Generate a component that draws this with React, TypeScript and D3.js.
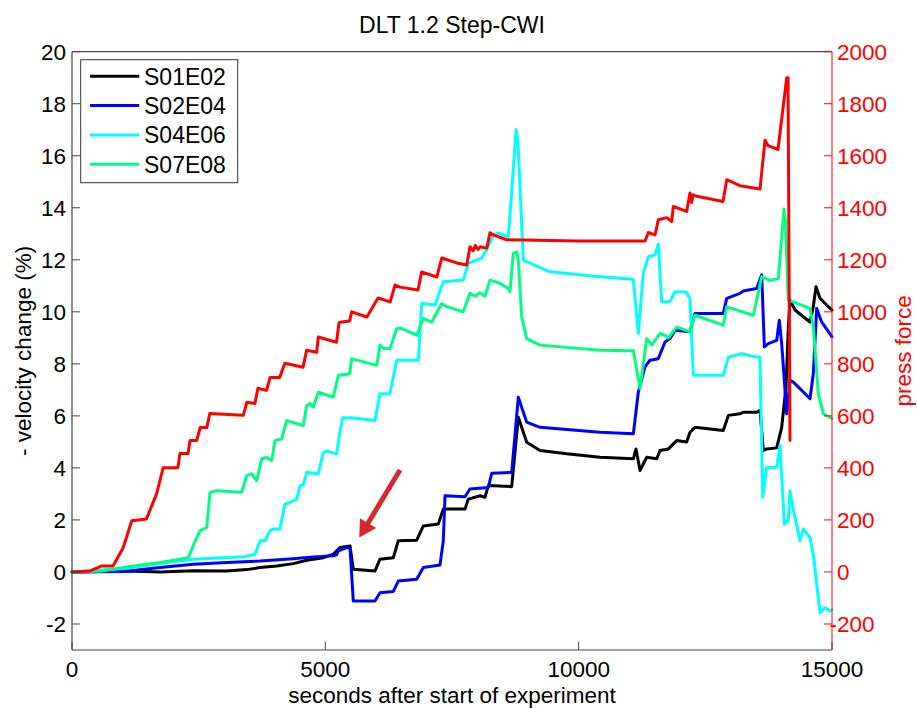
import React from "react";
import * as d3 from "d3";

type P = [number, number];

const title = "DLT 1.2 Step-CWI";
const xLabel = "seconds after start of experiment";
const yLabelLeft = "- velocity change (%)";
const yLabelRight = "press force";

const xTicks = [0, 5000, 10000, 15000];
const yTicksLeft = [-2, 0, 2, 4, 6, 8, 10, 12, 14, 16, 18, 20];
const yTicksRight = [-200, 0, 200, 400, 600, 800, 1000, 1200, 1400, 1600, 1800, 2000];

const seriesNames = ["S01E02", "S02E04", "S04E06", "S07E08"];
const seriesColors = ["#000000", "#0000ff", "#00ffff", "#00ff80"];

// S01E02 (seconds, % velocity change)
const s01e02: P[] = [
  [0, 0], [1080, 0.04], [1740, 0.0], [2394, 0.05], [3053, 0.04], [3448, 0.09], [3711, 0.17],
  [4040, 0.23], [4368, 0.32], [4632, 0.45], [4960, 0.55], [5157, 0.68], [5289, 0.94], [5487, 1.0],
  [5552, 0.1], [5980, 0.04], [6079, 0.49], [6342, 0.55], [6440, 1.2], [6803, 1.22], [6934, 1.77],
  [7230, 1.84], [7328, 2.42], [7757, 2.42], [7822, 2.8], [8053, 2.93], [8151, 2.87], [8216, 3.32],
  [8678, 3.28], [8809, 5.95], [8974, 4.99], [9237, 4.67], [9764, 4.54], [10421, 4.41], [11079, 4.35],
  [11132, 4.73], [11211, 3.9], [11343, 4.41], [11540, 4.35], [11605, 4.67], [11770, 4.73],
  [11935, 5.05], [12132, 5.0], [12197, 5.37], [12296, 5.56], [12855, 5.44], [12954, 6.02],
  [13184, 6.08], [13249, 6.14], [13514, 6.14], [13579, 6.21], [13645, 4.67], [13711, 4.73],
  [13908, 4.77], [14007, 5.56], [14092, 7.11], [14138, 9.42], [14171, 10.45], [14270, 10.07],
  [14434, 9.81], [14566, 9.61], [14631, 10.2], [14684, 10.96], [14763, 10.52], [14895, 10.26],
  [15000, 10.07],
];

// S02E04
const s02e04: P[] = [
  [0, 0], [1000, 0.02], [1740, 0.17], [2394, 0.3], [3053, 0.36], [3711, 0.42], [4368, 0.51],
  [4763, 0.58], [5157, 0.62], [5224, 0.66], [5256, 0.81], [5422, 0.94], [5487, 0.92], [5552, -1.12],
  [5980, -1.12], [6079, -0.8], [6342, -0.75], [6440, -0.35], [6803, -0.28], [6934, 0.17],
  [7263, 0.27], [7328, 1.2], [7362, 2.93], [7757, 2.89], [7855, 3.19], [8216, 3.25], [8284, 3.79],
  [8678, 3.83], [8809, 6.72], [8974, 5.76], [9237, 5.56], [10421, 5.37], [11079, 5.31],
  [11177, 6.91], [11309, 7.88], [11408, 8.14], [11572, 8.2], [11704, 8.84], [11803, 8.97],
  [11901, 9.29], [12197, 9.23], [12296, 9.94], [12855, 9.94], [12922, 10.52], [13184, 10.71],
  [13249, 10.8], [13514, 10.9], [13613, 11.42], [13665, 8.65], [13743, 8.78], [13908, 8.9],
  [13960, 9.68], [14007, 8.78], [14106, 6.08], [14171, 7.37], [14237, 7.3], [14368, 7.05],
  [14566, 6.66], [14631, 7.62], [14698, 10.13], [14796, 9.61], [15000, 9.04],
];

// S04E06
const s04e06: P[] = [
  [0, 0], [1080, 0.14], [1740, 0.32], [2394, 0.49], [3381, 0.58], [3612, 0.68], [3711, 1.2],
  [3809, 1.2], [3908, 1.58], [3973, 1.65], [4105, 1.65], [4204, 2.61], [4303, 2.67], [4435, 2.8],
  [4500, 3.32], [4565, 3.35], [4632, 3.83], [4861, 3.77], [4960, 4.6], [5027, 4.65], [5224, 4.54],
  [5276, 5.24], [5340, 5.93], [5552, 5.92], [5980, 5.82], [6079, 6.85], [6276, 6.85], [6409, 8.14],
  [6835, 8.14], [6902, 10.32], [7165, 10.26], [7328, 11.16], [7723, 11.22], [7822, 11.87],
  [8086, 12.06], [8216, 12.51], [8316, 12.96], [8414, 13.02], [8611, 12.89], [8678, 14.6],
  [8763, 17.0], [8800, 16.6], [8907, 11.99], [9039, 11.87], [9434, 11.54], [10421, 11.35],
  [11079, 11.25], [11177, 9.17], [11276, 11.48], [11375, 12.12], [11507, 12.19], [11572, 12.6],
  [11639, 10.39], [11803, 10.4], [11901, 10.77], [12132, 10.75], [12197, 10.5], [12263, 7.56],
  [12855, 7.56], [12954, 8.26], [13218, 8.39], [13514, 8.26], [13579, 8.26], [13632, 2.87],
  [13711, 4.02], [13908, 4.02], [13974, 4.86], [14059, 1.84], [14138, 2.0], [14171, 3.12],
  [14237, 2.4], [14368, 1.2], [14434, 1.65], [14566, 1.32], [14631, 0.68], [14763, -1.57],
  [14862, -1.37], [14961, -1.5], [15000, -1.45],
];

// S07E08
const s07e08: P[] = [
  [0, 0], [600, 0.04], [1080, 0.19], [1740, 0.36], [2130, 0.49], [2295, 0.55], [2461, 1.32],
  [2526, 1.58], [2659, 1.71], [2724, 3.06], [2856, 3.12], [3349, 3.06], [3448, 3.7], [3547, 3.77],
  [3645, 3.51], [3744, 4.35], [3843, 4.4], [3942, 4.28], [4007, 5.05], [4139, 5.12], [4237, 5.82],
  [4565, 5.63], [4632, 6.4], [4697, 6.47], [4763, 6.34], [4861, 6.91], [5157, 6.72], [5256, 7.56],
  [5480, 7.62], [5520, 8.2], [6013, 7.94], [6079, 8.72], [6144, 8.6], [6276, 8.59], [6409, 9.36],
  [6500, 9.36], [6803, 9.1], [6934, 9.75], [7099, 9.6], [7297, 10.32], [7396, 10.2], [7723, 10.0],
  [7855, 10.71], [7954, 10.6], [8053, 10.73], [8150, 10.6], [8250, 11.22], [8447, 11.1],
  [8611, 10.9], [8645, 10.77], [8710, 12.25], [8777, 12.31], [8809, 11.99], [8875, 9.81],
  [8974, 8.97], [9237, 8.72], [10421, 8.52], [11079, 8.5], [11211, 7.05], [11343, 8.97],
  [11442, 8.72], [11605, 9.17], [11700, 9.1], [11770, 9.0], [11935, 9.42], [12197, 9.23],
  [12296, 9.87], [12855, 9.49], [12922, 10.19], [13447, 9.87], [13613, 11.35], [13776, 11.2],
  [13941, 11.29], [14053, 13.95], [14080, 13.5], [14138, 10.45], [14566, 10.13], [14631, 9.42],
  [14730, 6.85], [14829, 6.08], [15000, 5.89],
];

// press force (right axis)
const pressForce: P[] = [
  [0, 0], [355, 4], [590, 23], [810, 23], [1010, 93], [1180, 197], [1470, 204], [1670, 301],
  [1800, 401], [2090, 401], [2130, 455], [2290, 455], [2330, 505], [2460, 505], [2530, 555],
  [2660, 555], [2720, 609], [3380, 602], [3450, 652], [3610, 648], [3670, 706], [3840, 698],
  [3910, 748], [4100, 748], [4200, 802], [4560, 787], [4630, 852], [4830, 845], [4860, 903],
  [5220, 883], [5270, 957], [5290, 960], [5480, 965], [5520, 1000], [5820, 980], [6040, 1053],
  [6280, 1038], [6375, 1103], [6470, 1095], [6830, 1084], [6900, 1153], [7200, 1134], [7300, 1207],
  [7590, 1188], [7790, 1180], [7855, 1250], [7920, 1235], [7960, 1255], [8013, 1240], [8060, 1250],
  [8185, 1245], [8250, 1304], [8310, 1296], [8580, 1277], [10000, 1272], [11310, 1272],
  [11375, 1305], [11507, 1296], [11572, 1354], [11737, 1362], [11836, 1347], [11868, 1405],
  [12132, 1386], [12197, 1457], [12230, 1420], [12257, 1450], [12330, 1444], [12849, 1424],
  [12922, 1508], [13184, 1485], [13579, 1472], [13678, 1660], [13737, 1639], [13934, 1624],
  [14106, 1900], [14132, 1900], [14171, 505],
];

const leftSeries = [s01e02, s02e04, s04e06, s07e08];

// annotation arrow (data coords, left axis)
const arrowTail: P = [6474, 3.92];
const arrowTip: P = [5670, 1.32];

const FONT = "'Liberation Sans', Arial, Helvetica, sans-serif";

export default function App() {
  const W = 917;
  const H = 709;
  const left = 72;
  const right = 832;
  const top = 51.7;
  const bottom = 650;

  const x = d3.scaleLinear().domain([0, 15000]).range([left, right]);
  const yL = d3.scaleLinear().domain([-3, 20]).range([bottom, top]);
  const yR = d3.scaleLinear().domain([-300, 2000]).range([bottom, top]);

  const lineL = d3.line<P>().x((d) => x(d[0])).y((d) => yL(d[1]));
  const lineR = d3.line<P>().x((d) => x(d[0])).y((d) => yR(d[1]));

  // arrow geometry
  const tx = x(arrowTail[0]), ty = yL(arrowTail[1]);
  const hx = x(arrowTip[0]), hy = yL(arrowTip[1]);
  const dx = hx - tx, dy = hy - ty;
  const len = Math.hypot(dx, dy);
  const ux = dx / len, uy = dy / len;
  const headLen = 17, headHalf = 9.5;
  const bx = hx - ux * headLen, by = hy - uy * headLen;
  const px = -uy, py = ux;
  const head = `${hx},${hy} ${bx + px * headHalf},${by + py * headHalf} ${bx - px * headHalf},${by - py * headHalf}`;

  const tickLen = 8;
  const fs = 22.5;

  return (
    <svg
      width={W}
      height={H}
      style={{ position: "absolute", left: 0, top: 0, background: "#fff" }}
      fontFamily={FONT}
    >
      <rect x={0} y={0} width={W} height={H} fill="#fff" />

      {/* title */}
      <text x={452} y={33} textAnchor="middle" fontSize={23} fill="#000">
        {title}
      </text>

      {/* series */}
      <g fill="none" strokeWidth={3} strokeLinejoin="round" strokeLinecap="round">
        {leftSeries.map((s, i) => (
          <path key={i} d={lineL(s) || ""} stroke={seriesColors[i]} />
        ))}
        <path d={lineR(pressForce) || ""} stroke="#ff0000" />
      </g>

      {/* axes box */}
      <line x1={left} y1={top} x2={right} y2={top} stroke="#262626" strokeWidth={1} />
      <line x1={left} y1={bottom} x2={right} y2={bottom} stroke="#444" strokeWidth={1.2} />
      <line x1={left} y1={top} x2={left} y2={bottom} stroke="#444" strokeWidth={1.2} />
      <line x1={right} y1={top} x2={right} y2={bottom} stroke="#ff0000" strokeWidth={1} />

      {/* x ticks */}
      {xTicks.map((t) => (
        <g key={t}>
          <line x1={x(t)} x2={x(t)} y1={bottom} y2={bottom - tickLen} stroke="#444" />
          <text x={x(t)} y={677} textAnchor="middle" fontSize={fs} fill="#000">
            {t}
          </text>
        </g>
      ))}

      {/* left ticks */}
      {yTicksLeft.map((t) => (
        <g key={t}>
          <line x1={left} x2={left + tickLen} y1={yL(t)} y2={yL(t)} stroke="#444" />
          <text x={66} y={yL(t) + 8} textAnchor="end" fontSize={fs} fill="#000">
            {t}
          </text>
        </g>
      ))}

      {/* right ticks */}
      {yTicksRight.map((t) => (
        <g key={t}>
          <line x1={right} x2={right - tickLen} y1={yR(t)} y2={yR(t)} stroke="#ff0000" />
          <text
            x={t < 0 ? 837 - fs * 0.333 : 837}
            y={yR(t) + 8}
            textAnchor="start"
            fontSize={fs}
            fill="#ff0000"
          >
            {t}
          </text>
        </g>
      ))}

      {/* axis labels */}
      <text x={452} y={703} textAnchor="middle" fontSize={fs} fill="#000">
        {xLabel}
      </text>
      <text
        transform={`translate(31, ${(top + bottom) / 2}) rotate(-90)`}
        textAnchor="middle"
        fontSize={fs}
        fill="#000"
      >
        {yLabelLeft}
      </text>
      <text
        transform={`translate(911, ${(top + bottom) / 2}) rotate(-90)`}
        textAnchor="middle"
        fontSize={fs}
        fill="#ff0000"
      >
        {yLabelRight}
      </text>

      {/* legend */}
      <rect x={80.7} y={59.7} width={157} height={123} fill="#fff" stroke="#333" strokeWidth={1} />
      {seriesNames.map((n, i) => {
        const yy = 76.3 + i * 29.3;
        return (
          <g key={n}>
            <line x1={90} x2={139.3} y1={yy} y2={yy} stroke={seriesColors[i]} strokeWidth={3} />
            <text x={144} y={yy + 8.5} fontSize={23} fill="#000">
              {n}
            </text>
          </g>
        );
      })}

      {/* annotation arrow */}
      <line x1={tx} y1={ty} x2={bx + ux * 2} y2={by + uy * 2} stroke="#d7282f" strokeWidth={5} />
      <polygon points={head} fill="#d7282f" />
    </svg>
  );
}
